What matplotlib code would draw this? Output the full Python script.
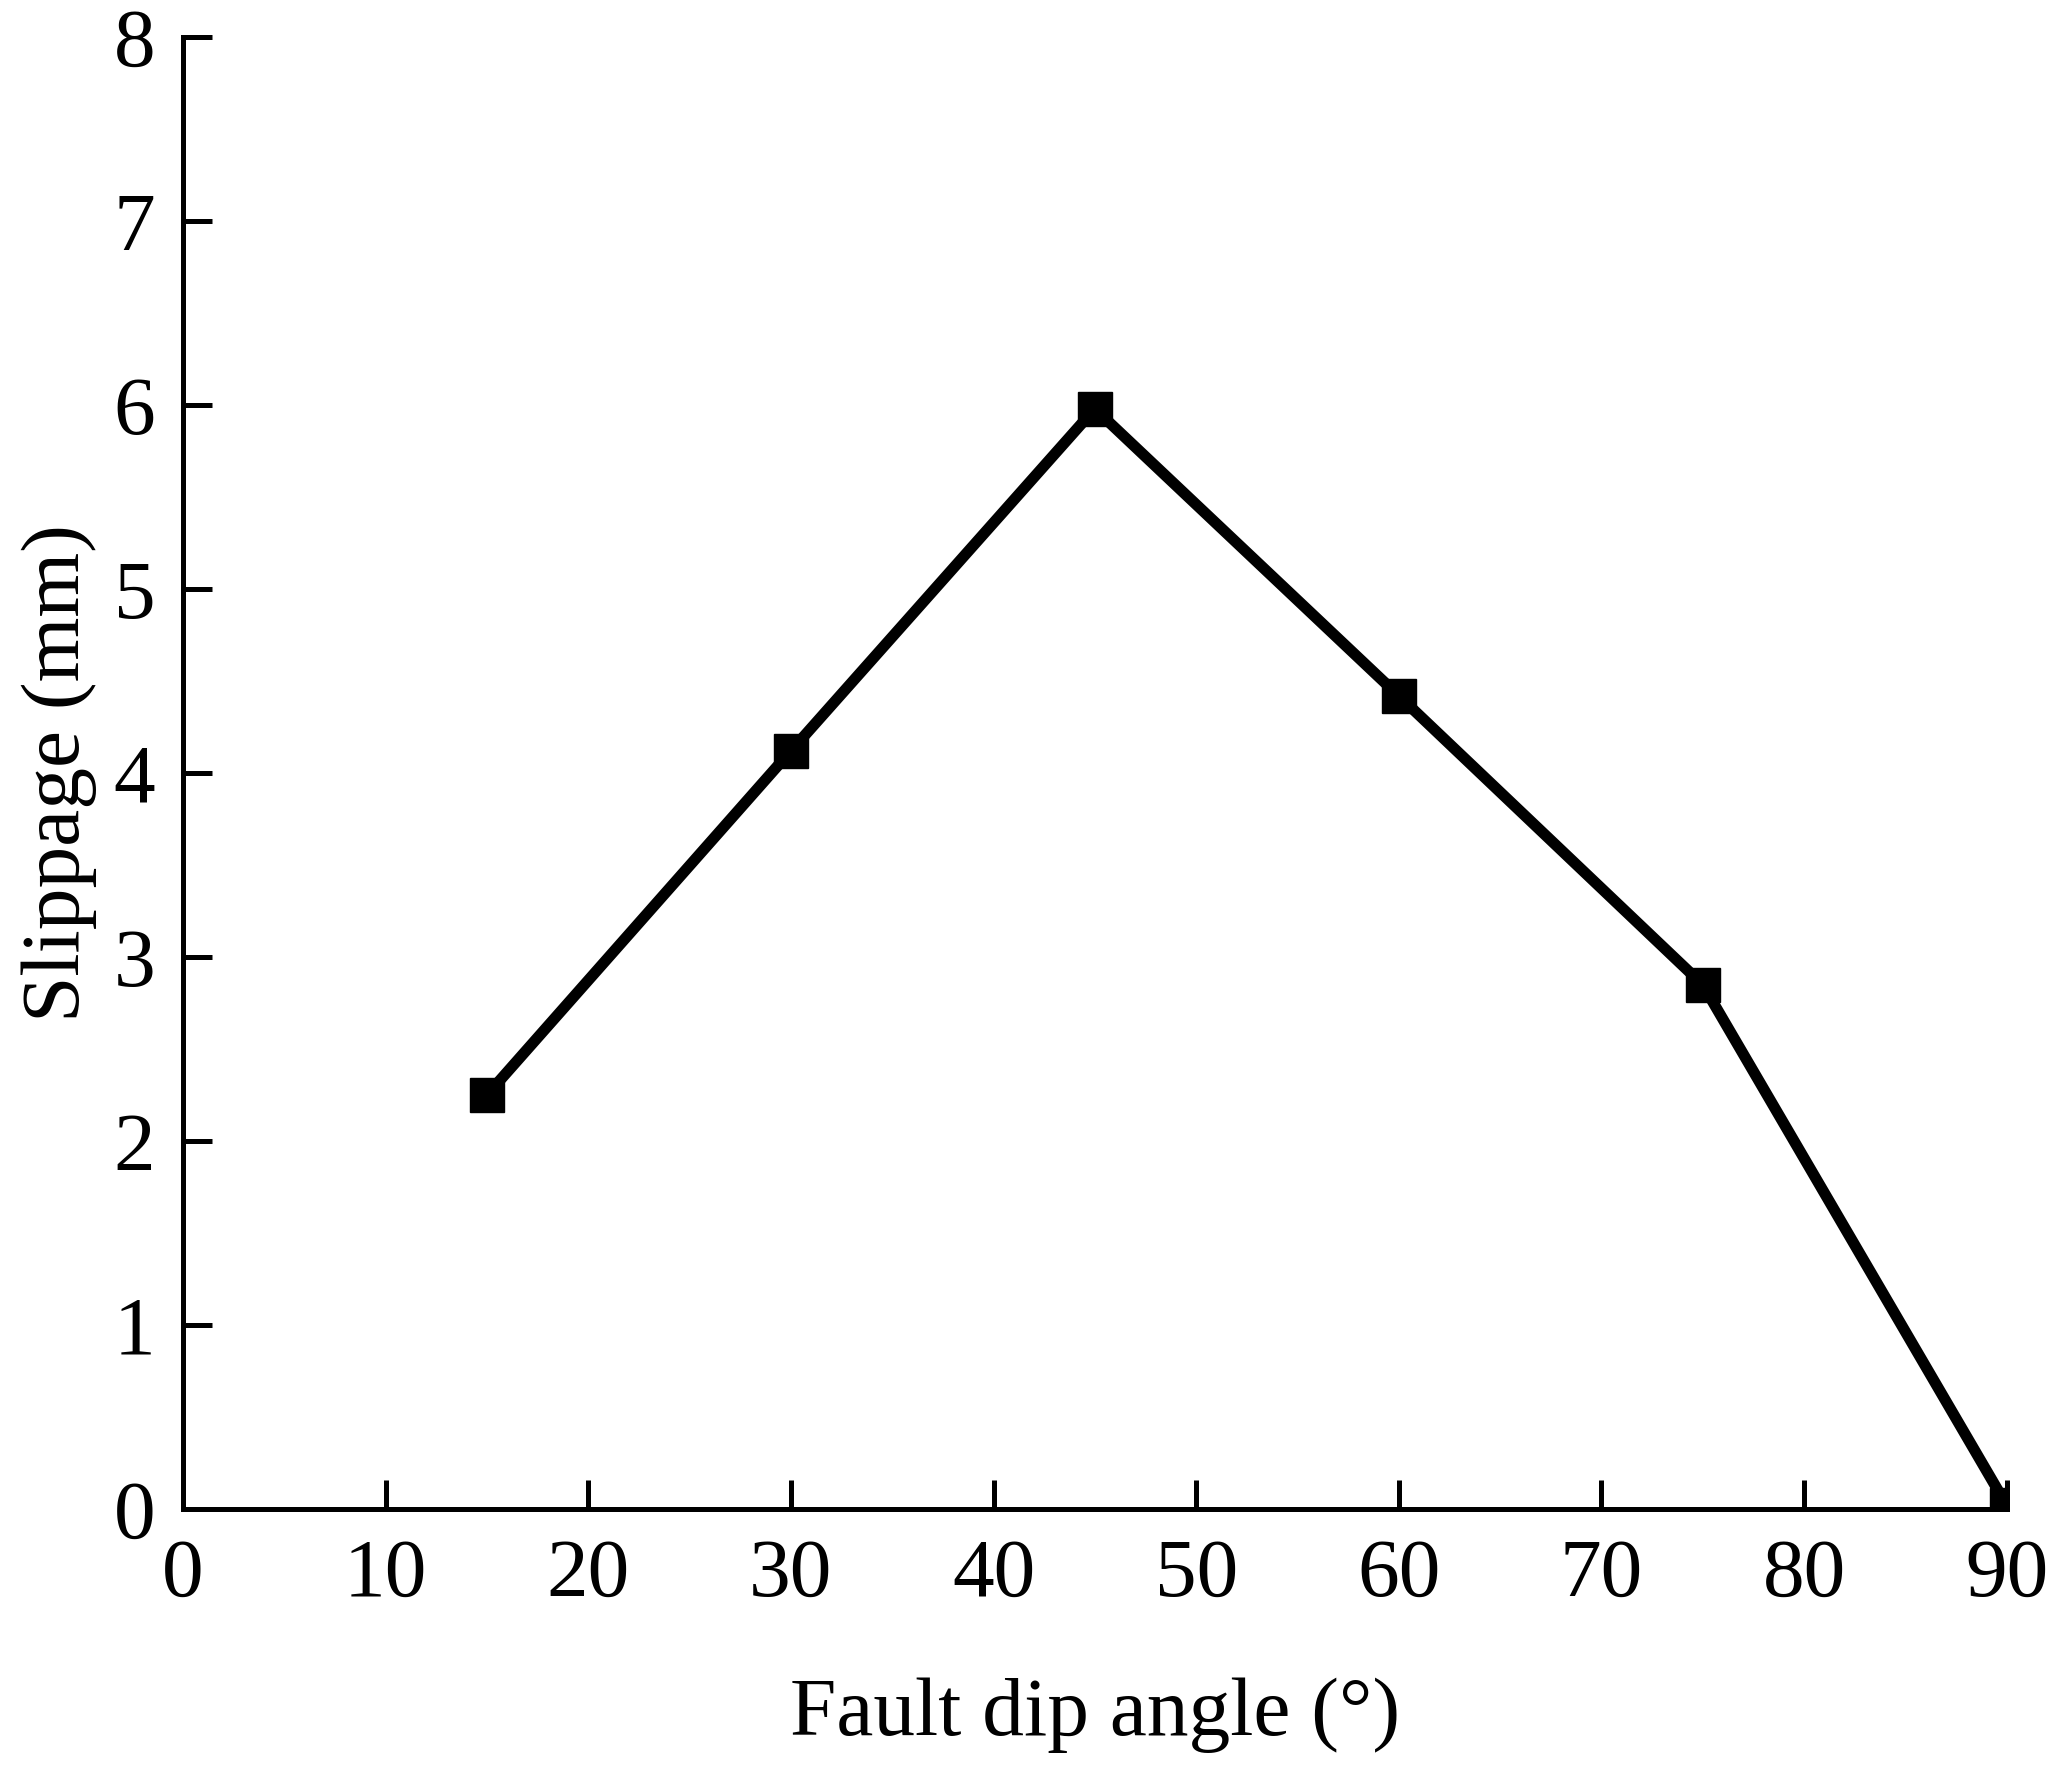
import matplotlib
matplotlib.use("Agg")
import matplotlib.pyplot as plt

plt.rcParams["font.family"] = ["Liberation Serif", "DejaVu Serif"]

dip_angle = [15, 30, 45, 60, 75, 90]
slippage = [2.25, 4.12, 5.98, 4.42, 2.85, 0.02]

x_ticks = [0, 10, 20, 30, 40, 50, 60, 70, 80, 90]
y_ticks = [0, 1, 2, 3, 4, 5, 6, 7, 8]

fig = plt.figure(figsize=(20.7, 17.71), dpi=100)
ax = fig.add_axes([0.0884, 0.148, 0.881, 0.831])

ax.plot(dip_angle, slippage, color="black", lw=8, marker="s", ms=24,
        mfc="black", mec="black", solid_joinstyle="miter")

ax.set_xlim(0, 90)
ax.set_ylim(0, 8)
ax.set_xticks(x_ticks)
ax.set_yticks(y_ticks)

for side in ["top", "right"]:
    ax.spines[side].set_visible(False)
for side in ["left", "bottom"]:
    ax.spines[side].set_linewidth(3.6)

ax.tick_params(direction="in", length=21, width=3.6, labelsize=60)
ax.tick_params(axis="x", pad=21)
ax.tick_params(axis="y", pad=20)

ax.set_xlabel("Fault dip angle (°)", fontsize=60, labelpad=46)
ax.set_ylabel("Slippage (mm)", fontsize=60, labelpad=12)

fig.savefig("out.png", dpi=100)
